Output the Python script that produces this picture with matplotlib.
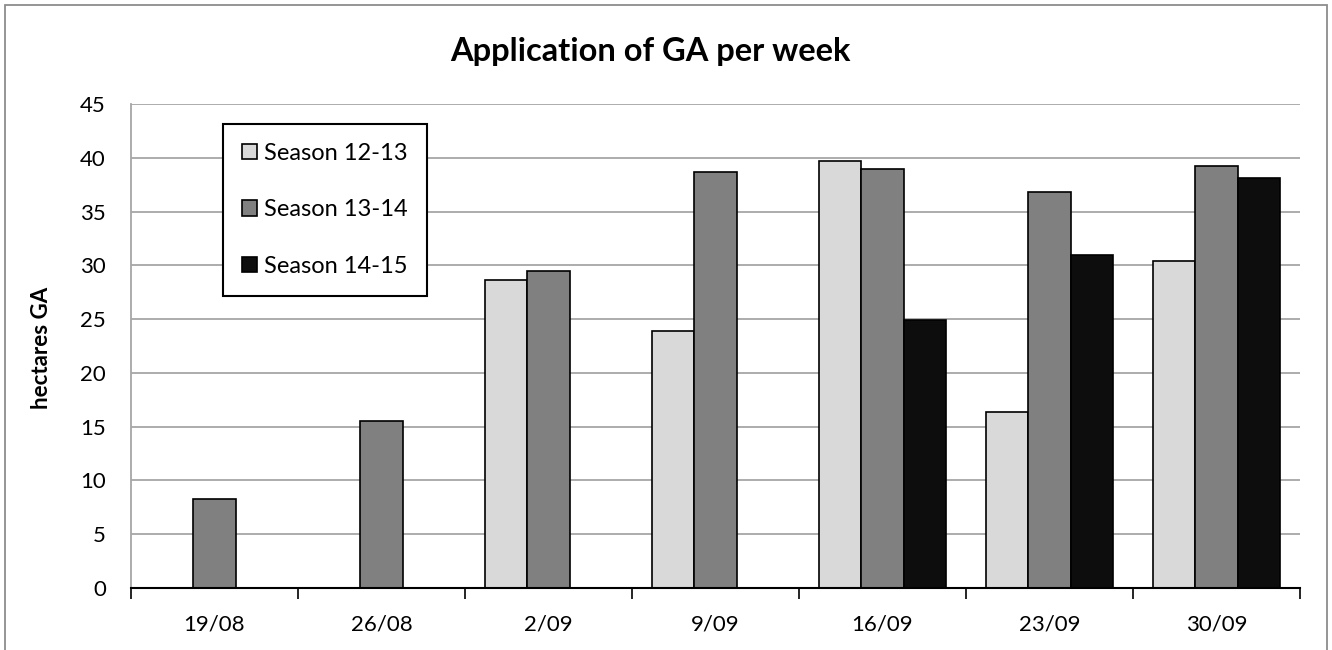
import matplotlib.pyplot as plt
import matplotlib.patches as patches
import numpy as np

weeks = ['19/08', '26/08', '2/09', '9/09', '16/09', '23/09', '30/09']
season_12_13 = [np.nan, np.nan, 28.6, 23.9, 39.7, 16.4, 30.4]
season_13_14 = [8.3, 15.5, 29.5, 38.7, 39.0, 36.8, 39.2]
season_14_15 = [np.nan, np.nan, np.nan, np.nan, 24.9, 31.0, 38.1]
series_names = ['Season 12-13', 'Season 13-14', 'Season 14-15']
colors = ['#d9d9d9', '#808080', '#0d0d0d']

plt.rcParams['font.family'] = ['Lato', 'DejaVu Sans']

fig = plt.figure(figsize=(13.32, 6.5), dpi=100)
ax = fig.add_axes([131 / 1332, 1 - 588 / 650, (1300 - 131) / 1332, (588 - 104) / 650])

x = np.arange(len(weeks))
w = 0.255
for i, (vals, name) in enumerate(zip([season_12_13, season_13_14, season_14_15], series_names)):
    ax.bar(x + (i - 1) * w, vals, w, color=colors[i], edgecolor='black', linewidth=1.2,
           label=name, zorder=3)

ax.set_xlim(-0.5, len(weeks) - 0.5)
ax.set_ylim(0, 45)
ax.set_yticks(np.arange(0, 46, 5))
ax.yaxis.grid(True, color='#a6a6a6', linewidth=1.3, zorder=0)
ax.tick_params(axis='y', length=0, pad=18, labelsize=16)

ax.set_xticks(x)
ax.set_xticklabels(weeks)
ax.set_xticks(np.arange(-0.5, len(weeks) + 0.5, 1), minor=True)
ax.tick_params(axis='x', which='major', length=0, pad=19, labelsize=16)
ax.tick_params(axis='x', which='minor', length=8, width=1.2, color='black')

for s in ['top', 'right']:
    ax.spines[s].set_visible(False)
ax.spines['left'].set_color('#a6a6a6')
ax.spines['left'].set_linewidth(1.3)
ax.spines['bottom'].set_color('black')
ax.spines['bottom'].set_linewidth(1.5)
ax.spines['bottom'].set_zorder(4)

fig.text(650 / 1332, 1 - 52 / 650, 'Application of GA per week', ha='center', va='center',
         fontsize=23.5, fontweight='bold')
fig.text(42 / 1332, 1 - 348 / 650, 'hectares GA', ha='center', va='center', rotation=90,
         fontsize=16, fontweight='bold')

leg = ax.legend(loc='upper left', bbox_to_anchor=(223 / 1332, 1 - 124 / 650),
                bbox_transform=fig.transFigure, fancybox=False, edgecolor='black',
                framealpha=1, fontsize=17, handlelength=0.65, handleheight=0.65,
                handletextpad=0.3, labelspacing=1.5, borderpad=0.8, borderaxespad=0)
leg.get_frame().set_linewidth(1.5)

fig.patches.append(patches.Rectangle((5 / 1332, -0.1), 1322 / 1332, 1.1 - 5 / 650,
                                     transform=fig.transFigure, fill=False,
                                     edgecolor='#8c8c8c', linewidth=1.3))

fig.savefig('out.png', dpi=100)
